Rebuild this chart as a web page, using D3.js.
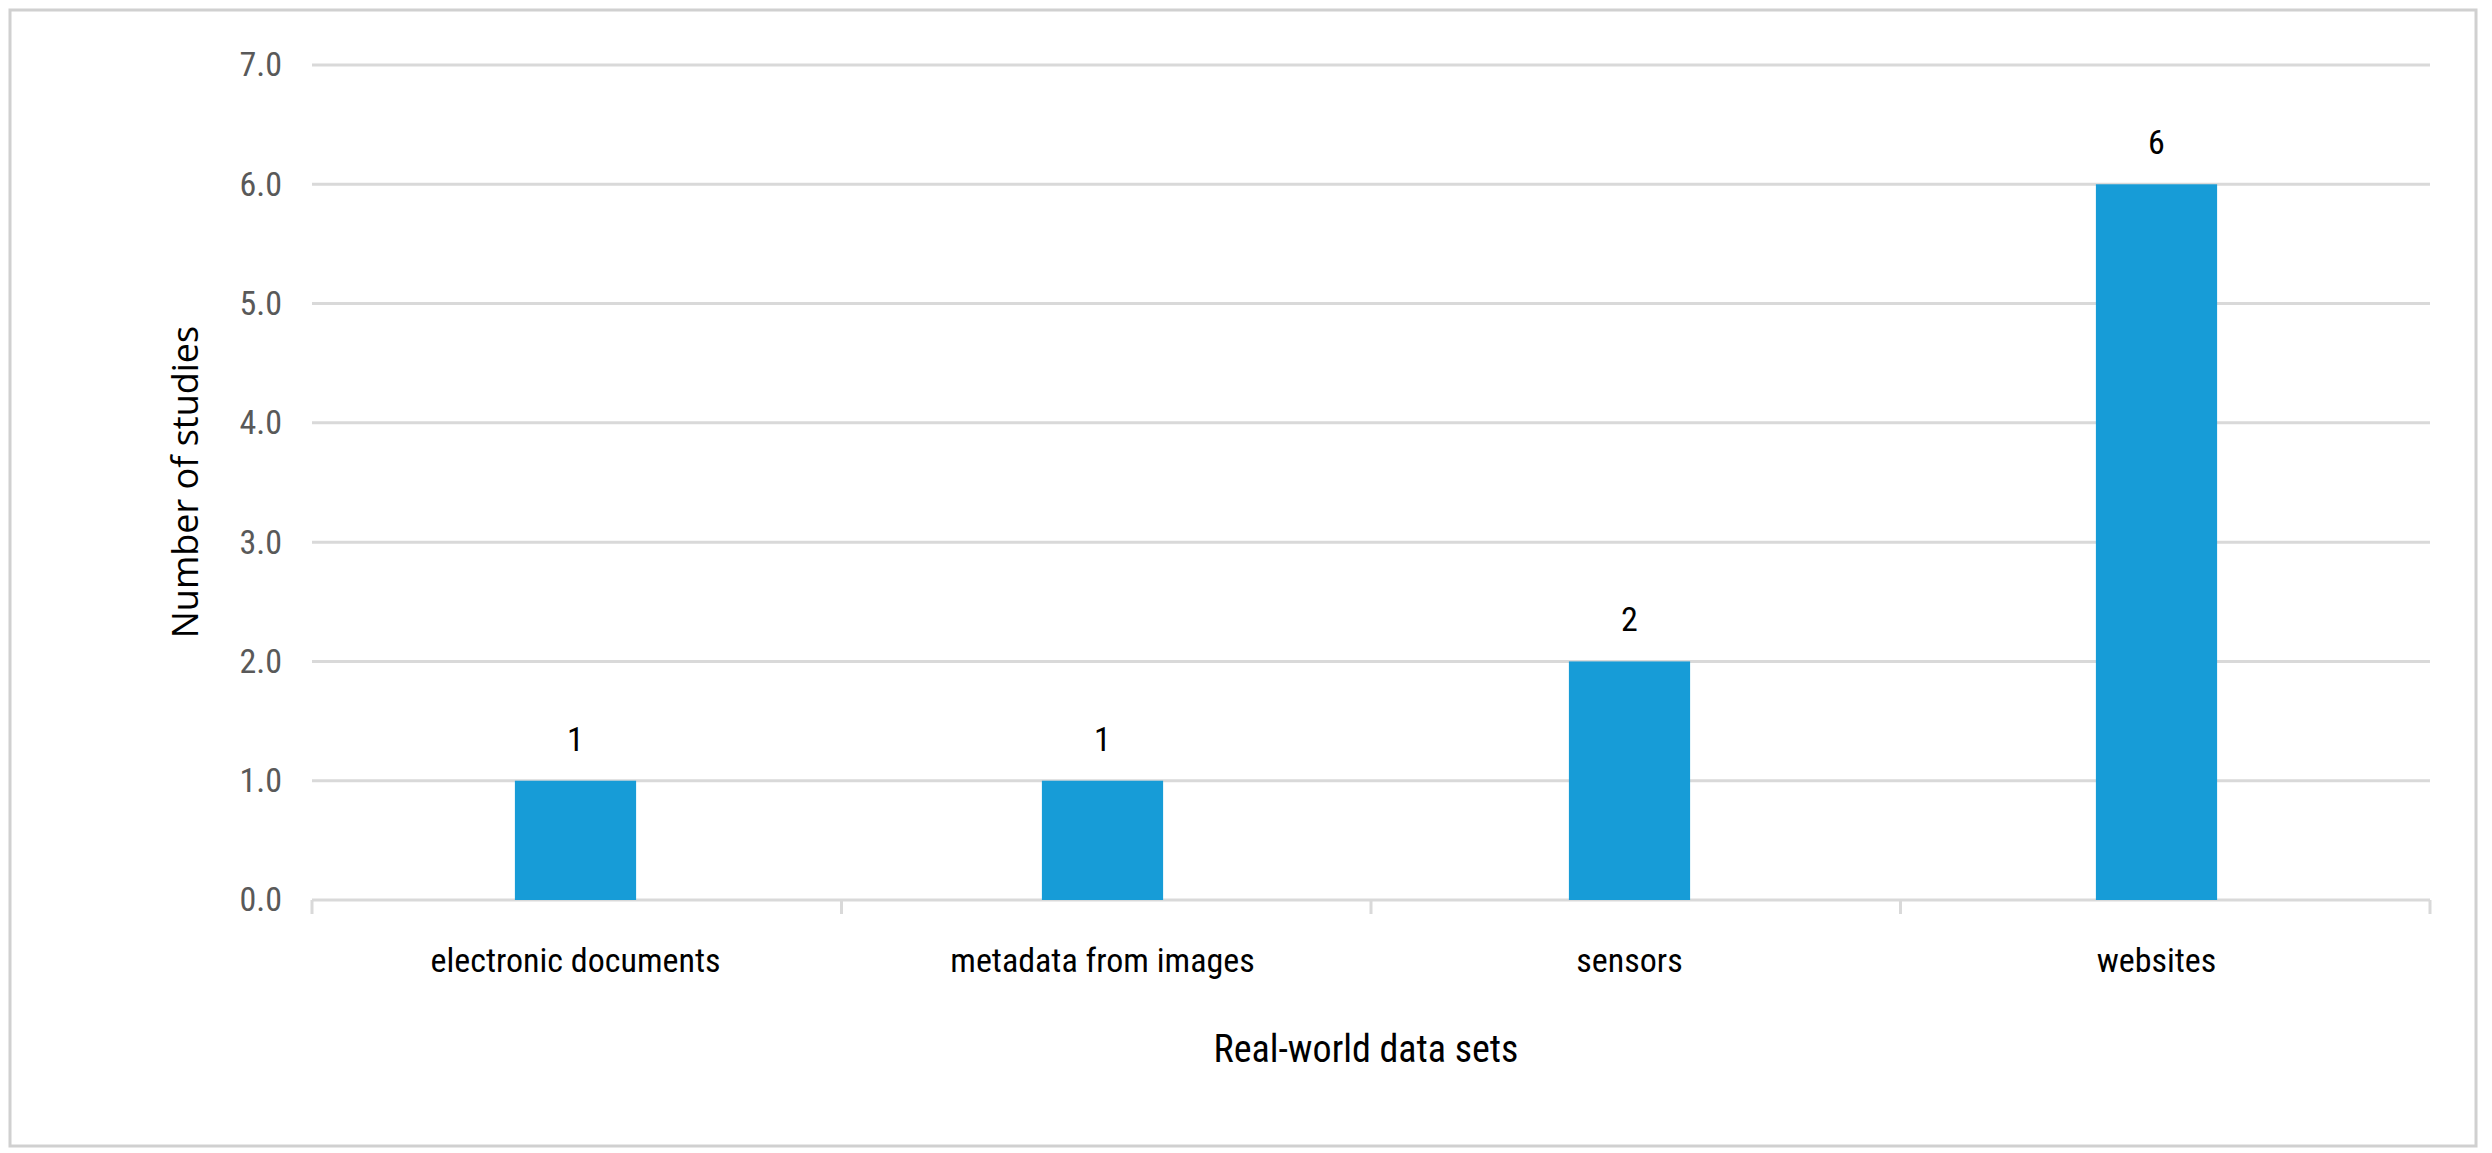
<!DOCTYPE html><html><head><meta charset="utf-8"><script src="https://cdn.jsdelivr.net/npm/d3@7"></script>
<style>body{margin:0;background:#fff}</style></head><body><script>
const categories=["electronic documents","metadata from images","sensors","websites"];
const values=[1,1,2,6];
const yTicks=[0,1,2,3,4,5,6,7];
const W=2492,H=1153,F="'Liberation Sans Narrow','Roboto Condensed',Roboto,sans-serif";
const svg=d3.select("body").append("svg").attr("width",W).attr("height",H);
svg.append("rect").attr("x",10).attr("y",10).attr("width",2466).attr("height",1136).attr("fill","none").attr("stroke","#d0d0d0").attr("stroke-width",3);
const x=d3.scaleBand().domain(categories).range([312,2420]).paddingInner(0.77).paddingOuter(0.385);
const y=d3.scaleLinear().domain([0,7]).range([900,65]);
svg.append("g").selectAll("line").data(yTicks).join("line").attr("x1",312).attr("x2",2430).attr("y1",d=>y(d)).attr("y2",d=>y(d)).attr("stroke","#d9d9d9").attr("stroke-width",3);
const ya=svg.append("g").attr("transform","translate(312,0)").call(d3.axisLeft(y).tickValues(yTicks).tickSize(0).tickPadding(30));
ya.select(".domain").remove();
ya.selectAll("text").attr("font-family",F).attr("font-size",34).attr("fill","#595959");
const band=d3.scaleBand().domain(categories).range([312,2430]);
svg.append("g").selectAll("line").data([...categories.map(c=>band(c)),2430]).join("line").attr("x1",d=>d).attr("x2",d=>d).attr("y1",900).attr("y2",914).attr("stroke","#d9d9d9").attr("stroke-width",3);
svg.append("g").selectAll("rect").data(values).join("rect").attr("x",(d,i)=>x(categories[i])).attr("width",x.bandwidth()).attr("y",d=>y(d)).attr("height",d=>y(0)-y(d)).attr("fill","#179cd7");
svg.append("g").selectAll("text").data(values).join("text").attr("x",(d,i)=>x(categories[i])+x.bandwidth()/2).attr("y",d=>y(d)-30).attr("text-anchor","middle").attr("font-family",F).attr("font-size",34).attr("fill","#000").text(d=>d);
svg.append("g").selectAll("text").data(categories).join("text").attr("x",d=>x(d)+x.bandwidth()/2).attr("y",972).attr("text-anchor","middle").attr("font-family",F).attr("font-size",34).attr("fill","#000").text(d=>d);
svg.append("text").attr("x",1366).attr("y",1062).attr("text-anchor","middle").attr("font-family",F).attr("font-size",38).attr("fill","#000").text("Real-world data sets");
svg.append("text").attr("transform","translate(198,482) rotate(-90)").attr("text-anchor","middle").attr("font-family","'Open Sans',sans-serif").attr("font-size",36).attr("fill","#000").text("Number of studies");
</script></body></html>
